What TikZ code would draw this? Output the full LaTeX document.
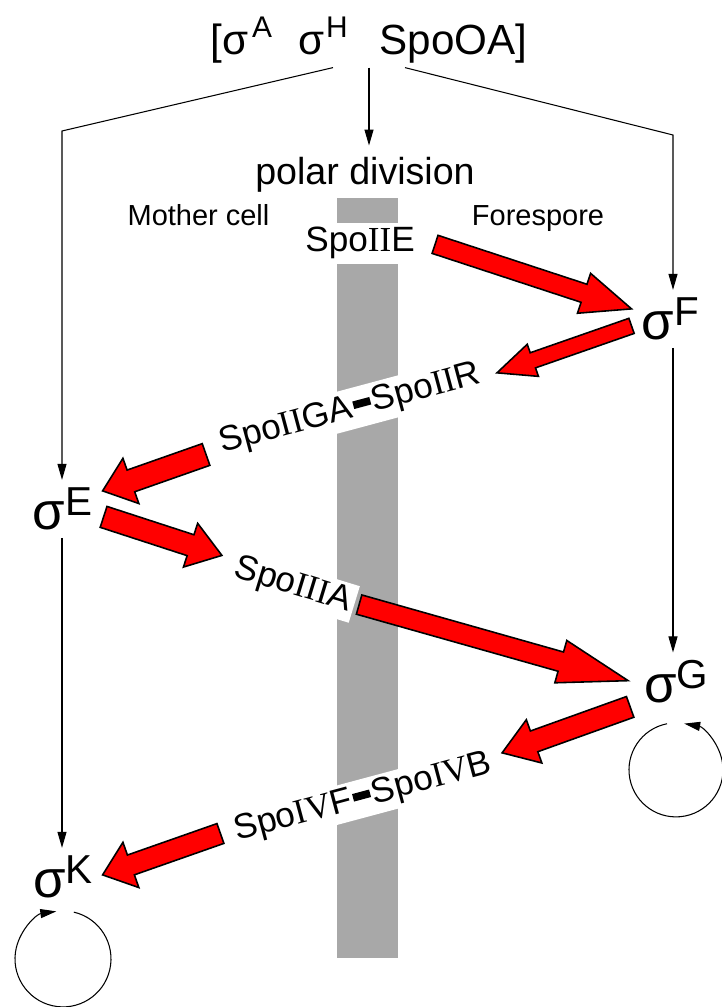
\documentclass[tikz,border=0pt]{standalone}
\usepackage{fontspec}
\setmainfont{Liberation Sans}
\newfontfamily\romfont{Liberation Serif}
\usetikzlibrary{positioning,calc,arrows.meta}

\definecolor{membrane}{RGB}{168,168,168}
\definecolor{sigred}{RGB}{255,0,0}

\newcommand{\rn}[1]{{\romfont #1}}
\newcommand{\sig}[1]{{\fontsize{30}{30}\selectfont σ}\raisebox{8.5pt}{\fontsize{23}{23}\selectfont #1}}
\newcommand{\topsup}[1]{\raisebox{10pt}{\fontsize{17}{17}\selectfont #1}}
\newcommand{\bond}{\hspace{0.05em}\rule[0.22em]{0.5em}{0.22em}\hspace{0.05em}}

% fat red arrow: tail, tip, shaft half width, head half width, head length
\newcommand{\fatarrow}[5]{%
  \path (#1) coordinate (fa-t) (#2) coordinate (fa-h);
  \path ($(fa-h)!#5!(fa-t)$) coordinate (fa-b);
  \filldraw[redarrow] ($(fa-t)!#3!90:(fa-h)$) -- ($(fa-b)!#3!90:(fa-h)$)
    -- ($(fa-b)!#4!90:(fa-h)$) -- (fa-h) -- ($(fa-b)!#4!-90:(fa-h)$)
    -- ($(fa-b)!#3!-90:(fa-h)$) -- ($(fa-t)!#3!-90:(fa-h)$) -- cycle;
}

\begin{document}
\begin{tikzpicture}[
  thinarrow/.style={line width=0.6pt, -{Triangle[length=0.32cm,width=0.18cm]}},
  sigma/.style={inner xsep=0pt, inner ysep=4pt, anchor=base},
  protein/.style={font=\fontsize{20}{20}\selectfont, fill=white, inner xsep=2pt, inner ysep=2.5pt, anchor=base},
  cell/.style={font=\fontsize{16.5}{16.5}\selectfont, anchor=base},
  redarrow/.style={fill=sigred, draw=black, line width=0.9pt}]
  \useasboundingbox (0,0) rectangle (14.42,20.14);

  % membrane between the two cells
  \fill[membrane] (6.74,0.98) rectangle (7.96,16.18);

  % top labels
  \node[anchor=base, font=\fontsize{24}{24}\selectfont, inner sep=2pt] (top) at (7.38,19.04)
    {[σ\hspace{0.08em}\topsup{A}\hspace{0.62em}σ\hspace{0.05em}\topsup{H}\hspace{0.75em}SpoOA]};
  \node[anchor=base, font=\fontsize{21.4}{21.4}\selectfont] (polar) at (7.30,16.44) {polar division};
  \node[cell] (mother) at (3.97,15.62) {Mother cell};
  \node[cell] (fore) at (10.76,15.62) {Forespore};

  % sigma factors
  \node[sigma] (sigF) at (13.41,13.34) {\sig{F}};
  \node[sigma] (sigE) at (1.25,9.54) {\sig{E}};
  \node[sigma] (sigG) at (13.52,6.08) {\sig{G}};
  \node[sigma] (sigK) at (1.26,2.18) {\sig{K}};

  % proteins across the septum
  \node[protein] (spoIIE) at (7.20,15.10) {Spo\rn{II}E};
  \node[protein, rotate=15] (spoIIGA) at (7.05,11.79) {Spo\rn{II}GA\bond Spo\rn{II}R};
  \node[protein, rotate=-17, inner ysep=1.8pt] (spoIIIA) at (5.81,8.26) {Spo\rn{III}A};
  \node[protein, rotate=15, inner ysep=1.8pt] (spoIVF) at (7.31,4.01) {Spo\rn{IV}F\bond Spo\rn{IV}B};

  % thin connectors
  \coordinate (lcorner) at (1.24,17.52);
  \coordinate (rcorner) at (13.46,17.44);
  \draw[thinarrow, shorten >=0.12cm] (top.south) -- (top.south |- polar.north);
  \draw[thinarrow] ($(top.south)+(-0.72,0)$) -- (lcorner) -- (lcorner |- sigE.north);
  \draw[thinarrow] ($(top.south)+(0.72,0)$) -- (rcorner) -- (rcorner |- sigF.north);
  \draw[thinarrow] (rcorner |- sigF.south) -- (rcorner |- sigG.north);
  \draw[thinarrow] (lcorner |- sigE.south) -- (lcorner |- sigK.north);

  % autoregulation loops
  \coordinate (gloop) at ($(sigG.south)+(0,-1.18)$);
  \draw[thinarrow] ([shift={(101:0.94)}]gloop) arc[start angle=101, end angle=440, radius=0.94];
  \coordinate (kloop) at ($(sigK.south)+(0,-1.06)$);
  \draw[thinarrow] ([shift={(77:0.96)}]kloop) arc[start angle=77, end angle=-262, radius=0.96];

  % signalling between the compartments
  \fatarrow{$(spoIIE.east)+(0.33,-0.02)$}{$(sigF.west)+(-0.2,0.2)$}{0.19cm}{0.42cm}{1.0cm}
  \fatarrow{$(sigF.west)+(-0.2,-0.14)$}{$(spoIIGA.east)+(0.26,0.01)$}{0.16cm}{0.34cm}{0.76cm}
  \fatarrow{$(spoIIGA.west)+(-0.21,-0.19)$}{$(sigE.east)+(0.2,0.36)$}{0.23cm}{0.48cm}{0.6cm}
  \fatarrow{$(sigE.east)+(0.22,-0.16)$}{$(spoIIIA.west)+(-0.19,0.23)$}{0.22cm}{0.46cm}{0.66cm}
  \fatarrow{$(spoIIIA.east)+(0.09,0)$}{$(sigG.west)+(-0.31,0.02)$}{0.2cm}{0.44cm}{1.4cm}
  \fatarrow{$(sigG.south west)+(-0.27,0.08)$}{$(spoIVF.east)+(0.14,0.2)$}{0.22cm}{0.46cm}{0.68cm}
  \fatarrow{$(spoIVF.west)+(-0.22,0)$}{$(sigK.east)+(0.19,0.04)$}{0.21cm}{0.48cm}{0.6cm}
\end{tikzpicture}
\end{document}
